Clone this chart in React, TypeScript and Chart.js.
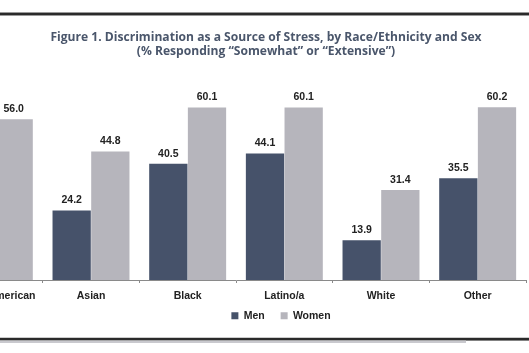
import React, { useEffect, useRef } from "react";
import { Chart, registerables } from "chart.js";

Chart.register(...registerables);

// ---- data ----
const categories = ["Native American", "Asian", "Black", "Latino/a", "White", "Other"];
const menValues = [38.5, 24.2, 40.5, 44.1, 13.9, 35.5];
const womenValues = [56.0, 44.8, 60.1, 60.1, 31.4, 60.2];
const seriesNames = ["Men", "Women"];
const titleLines = [
  "Figure 1. Discrimination as a Source of Stress, by Race/Ethnicity and Sex",
  "(% Responding \u201cSomewhat\u201d or \u201cExtensive\u201d)",
];

// ---- styles ----
const MEN_COLOR = "#46526a";
const WOMEN_COLOR = "#b6b5bc";
const TEXT_COLOR = "#222222";
const TITLE_COLOR = "#4a566b";
const BODY_FONT = "'Liberation Sans', Arial, sans-serif";

const CANVAS_LEFT = -54;
const CANVAS_W = 640;
const CANVAS_H = 353;
const LEGEND_SHIFT = 15;

const valueLabelPlugin = {
  id: "valueLabels",
  afterDatasetsDraw(chart: any) {
    const ctx = chart.ctx;
    ctx.save();
    ctx.font = `bold 10.5px ${BODY_FONT}`;
    ctx.fillStyle = TEXT_COLOR;
    ctx.textAlign = "center";
    ctx.textBaseline = "middle";
    chart.data.datasets.forEach((ds: any, i: number) => {
      const meta = chart.getDatasetMeta(i);
      meta.data.forEach((bar: any, j: number) => {
        const v = ds.data[j];
        ctx.fillText(Number(v).toFixed(1), bar.x, bar.y - 10);
      });
    });
    ctx.restore();
  },
};

// lets the category labels overflow their (shortened) axis box, and nudges the legend
const layoutTweakPlugin = {
  id: "layoutTweak",
  afterLayout(chart: any) {
    const x = chart.scales.x;
    if (x) x.bottom = x.top + 40;
    const lg = chart.legend;
    if (lg) {
      lg.left += LEGEND_SHIFT;
      lg.right += LEGEND_SHIFT;
    }
  },
};

const framePlugin = {
  id: "frameRules",
  afterDraw(chart: any) {
    const ctx = chart.ctx;
    const w = chart.width;
    const offset = -CANVAS_LEFT;
    ctx.save();
    // top rule
    ctx.fillStyle = "#9a9a9a";
    ctx.fillRect(0, 12, w, 4);
    ctx.fillStyle = "#2a2a2a";
    ctx.fillRect(0, 13, w, 2);
    // bottom rule
    ctx.fillStyle = "#9a9a9a";
    ctx.fillRect(0, 337.5, w, 3.5);
    ctx.fillStyle = "#2a2a2a";
    ctx.fillRect(0, 338, w, 2.2);
    ctx.fillStyle = "#c9c9ce";
    ctx.fillRect(0, 340.5, offset + 466, 2.5);
    ctx.restore();
  },
};

export default function App() {
  const ref = useRef<HTMLCanvasElement | null>(null);

  useEffect(() => {
    if (!ref.current) return;
    const chart = new Chart(ref.current, {
      type: "bar",
      data: {
        labels: categories,
        datasets: [
          {
            label: seriesNames[0],
            data: menValues,
            backgroundColor: MEN_COLOR,
            borderWidth: 0,
            categoryPercentage: 0.8,
            barPercentage: 0.99,
          },
          {
            label: seriesNames[1],
            data: womenValues,
            backgroundColor: WOMEN_COLOR,
            borderWidth: 0,
            categoryPercentage: 0.8,
            barPercentage: 0.99,
          },
        ],
      },
      options: {
        animation: false,
        responsive: false,
        maintainAspectRatio: false,
        layout: { padding: { top: 0, bottom: 22, left: 0, right: 0 } },
        scales: {
          x: {
            grid: {
              display: true,
              drawOnChartArea: false,
              drawTicks: true,
              tickLength: 3,
              color: "#8a8a8a",
              offset: true,
            },
            border: { display: true, color: "#8a8a8a", width: 1 },
            ticks: {
              color: TEXT_COLOR,
              padding: 7,
              autoSkip: false,
              maxRotation: 0,
              font: { family: BODY_FONT, size: 10.5, weight: "bold", lineHeight: 1.2 },
            },
            afterFit(scale: any) {
              scale.height = 14.5;
              scale.paddingLeft = 0;
              scale.paddingRight = 0;
            },
          },
          y: {
            position: "right",
            min: 0,
            max: 70,
            grid: { display: false },
            border: { display: false },
            ticks: { display: false },
            afterFit(scale: any) {
              scale.width = 60;
            },
          },
        },
        plugins: {
          title: {
            display: true,
            text: titleLines,
            color: TITLE_COLOR,
            font: { family: "'Open Sans'", size: 12.1, weight: "bold", lineHeight: 14 / 12.1 },
            padding: { top: 31, bottom: 20.2 },
          },
          legend: {
            display: true,
            position: "bottom",
            labels: {
              boxWidth: 7,
              boxHeight: 7,
              padding: 16,
              color: TEXT_COLOR,
              font: { family: BODY_FONT, size: 10.5, weight: "bold" },
            },
          },
          tooltip: { enabled: false },
        },
      },
      plugins: [valueLabelPlugin, layoutTweakPlugin, framePlugin],
    });
    return () => chart.destroy();
  }, []);

  return (
    <div
      style={{
        position: "fixed",
        left: 0,
        top: 0,
        width: 529,
        height: 353,
        overflow: "hidden",
        background: "#ffffff",
      }}
    >
      <canvas
        ref={ref}
        width={CANVAS_W}
        height={CANVAS_H}
        style={{ position: "absolute", left: CANVAS_LEFT, top: 0, width: CANVAS_W, height: CANVAS_H }}
      />
    </div>
  );
}
